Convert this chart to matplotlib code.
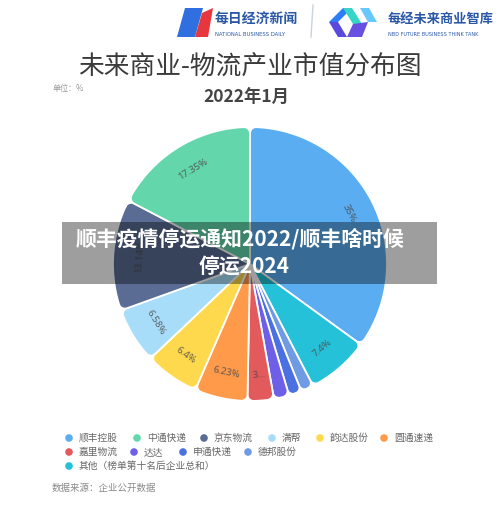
import numpy as np
import matplotlib
matplotlib.use("Agg")
import matplotlib.pyplot as plt
from matplotlib.patches import Polygon, Rectangle

plt.rcParams['font.family'] = ['Noto Sans CJK SC', 'DejaVu Sans']

# legend order
companies = ["顺丰控股", "中通快递", "京东物流", "满帮", "韵达股份", "圆通速递",
             "嘉里物流", "达达", "申通快递", "德邦股份", "其他（榜单第十名后企业总和）"]
shares = [35, 17.35, 13.14, 6.58, 6.4, 6.23, 3.1, 1.8, 1.5, 1.5, 7.4]
slice_labels = ["35%", "17.35%", "13.14%", "6.58%", "6.4%", "6.23%", "3...",
                "", "", "", "7.4%"]
colors = ["#5AADF1", "#63D7AB", "#5A6C94", "#A8DDF9", "#FFD94D", "#FF9A4B",
          "#E35A5C", "#6E60E6", "#4A70E2", "#6E9BE4", "#25C1D8"]
# clockwise order in which the slices are drawn
pie_order = [0, 10, 9, 8, 7, 6, 5, 4, 3, 2, 1]

legend_pos = [(69, 438), (137, 438), (204, 438), (272, 438), (320, 438), (384, 438),
              (69, 452), (134, 452), (183, 452), (248, 452), (69, 466)]


def rounded_wedge(t1, t2, r=1.0, rc=0.045, n=30):
    a1, a2 = np.radians(t1), np.radians(t2)
    d = np.arcsin(rc / (r - rc))
    if d > (a2 - a1) / 2 * 0.95:
        d = (a2 - a1) / 2 * 0.95
        s = np.sin(d)
        rc = r * s / (1 + s)
    pts = [np.array([[0.0, 0.0]])]
    c1 = (r - rc) * np.array([np.cos(a1 + d), np.sin(a1 + d)])
    ang = np.linspace(a1 - np.pi / 2, a1 + d, n)
    pts.append(c1 + rc * np.c_[np.cos(ang), np.sin(ang)])
    ang = np.linspace(a1 + d, a2 - d, max(int((a2 - a1) * 60), 2))
    pts.append(r * np.c_[np.cos(ang), np.sin(ang)])
    c2 = (r - rc) * np.array([np.cos(a2 - d), np.sin(a2 - d)])
    ang = np.linspace(a2 - d, a2 + np.pi / 2, n)
    pts.append(c2 + rc * np.c_[np.cos(ang), np.sin(ang)])
    return np.vstack(pts)


fig = plt.figure(figsize=(5.0, 5.07), dpi=100)
fig.patch.set_facecolor("white")

# pie: centre (250, 264) px, radius 137 px
ax_pie = fig.add_axes([113 / 500, 1 - 401 / 507, 274 / 500, 274 / 507], zorder=1)
vals = [shares[i] for i in pie_order]
wedges, _ = ax_pie.pie(vals, startangle=90, counterclock=False, radius=1)
for w, i in zip(wedges, pie_order):
    w.set_visible(False)
    poly = Polygon(rounded_wedge(w.theta1, w.theta2), closed=True,
                   facecolor=colors[i], edgecolor="white", linewidth=1.3,
                   joinstyle="round")
    ax_pie.add_patch(poly)
    if slice_labels[i]:
        mid = (w.theta1 + w.theta2) / 2
        rot = (mid - 90) % 360
        if rot > 90 and rot <= 270:
            rot -= 180
        elif rot > 270:
            rot -= 360
        ax_pie.text(0.81 * np.cos(np.radians(mid)), 0.81 * np.sin(np.radians(mid)),
                    slice_labels[i], rotation=rot, rotation_mode="anchor",
                    ha="center", va="center", fontsize=7, color="#4a4a4a",
                    alpha=0.85, family=["Noto Sans", "DejaVu Sans"])
ax_pie.set_xlim(-1, 1)
ax_pie.set_ylim(-1, 1)
ax_pie.set_aspect("equal")
ax_pie.axis("off")

# page elements in pixel coordinates
ax = fig.add_axes([0, 0, 1, 1], zorder=2)
ax.set_xlim(0, 500)
ax.set_ylim(507, 0)
ax.axis("off")
ax.patch.set_alpha(0)

# header logos
ax.add_patch(Polygon([(177, 37), (185, 8), (203, 8), (195, 37)], closed=True,
                     facecolor="#2F6FE0", edgecolor="none"))
ax.add_patch(Polygon([(195, 37), (202, 13), (213, 8), (208, 37)], closed=True,
                     facecolor="#E8363F", edgecolor="none"))
ax.text(215, 19, "每日经济新闻", fontsize=10, fontweight="bold", color="#2B58A6",
        va="center", ha="left")
ax.text(215, 34, "NATIONAL BUSINESS DAILY", fontsize=3.8, color="#2B58A6",
        va="center", ha="left", family=["DejaVu Sans"])
ax.plot([313, 311], [5, 37], color="#C9D2DE", lw=1)
ax.add_patch(Polygon([(329, 22), (343, 8), (352, 8), (338, 22)], closed=True,
                     facecolor="#2C7DF6", edgecolor="none"))
ax.add_patch(Polygon([(329, 22), (338, 22), (347, 37), (338, 37)], closed=True,
                     facecolor="#5A49DD", edgecolor="none"))
ax.add_patch(Polygon([(343, 8), (352, 8), (362, 24), (353, 24)], closed=True,
                     facecolor="#37D5C6", edgecolor="none"))
ax.add_patch(Polygon([(360, 8), (369, 8), (377, 22), (368, 22)], closed=True,
                     facecolor="#67C7FF", edgecolor="none"))
ax.add_patch(Polygon([(353, 24), (368, 22), (362, 37), (347, 37)], closed=True,
                     facecolor="#6A4FE3", edgecolor="none"))
ax.text(388, 19, "每经未来商业智库", fontsize=9.5, fontweight="bold", color="#2B58A6",
        va="center", ha="left")
ax.text(388, 34, "NBD FUTURE BUSINESS THINK TANK", fontsize=3.6, color="#2B58A6",
        va="center", ha="left", family=["DejaVu Sans"])

# titles
ax.text(250, 68, "未来商业-物流产业市值分布图", fontsize=18.5, color="#3A3A3A",
        ha="center", va="center", fontweight="medium")
ax.text(53, 88, "单位：%", fontsize=5.8, color="#999999", ha="left", va="center")
ax.text(246, 98, "2022年1月", fontsize=12.5, color="#444444", ha="center",
        va="center", fontweight="bold")

# legend
for (x, y), name, c in zip(legend_pos, companies, colors):
    ax.scatter([x], [y], s=30, color=c, edgecolors="none")
    ax.text(x + 10, y, name, fontsize=7, color="#666666", ha="left", va="center")

ax.text(52, 488, "数据来源：企业公开数据", fontsize=6.8, color="#8A8A8A",
        ha="left", va="center")

# overlay banner
ax.add_patch(Rectangle((62, 222), 375, 62, facecolor="black", alpha=0.38,
                       edgecolor="none"))
ax.text(240, 240, "顺丰疫情停运通知2022/顺丰啥时候", fontsize=15, color="white",
        fontweight="bold", ha="center", va="center")
ax.text(244, 267, "停运2024", fontsize=15, color="white", fontweight="bold",
        ha="center", va="center")

fig.savefig("out.png", dpi=100, facecolor="white")
